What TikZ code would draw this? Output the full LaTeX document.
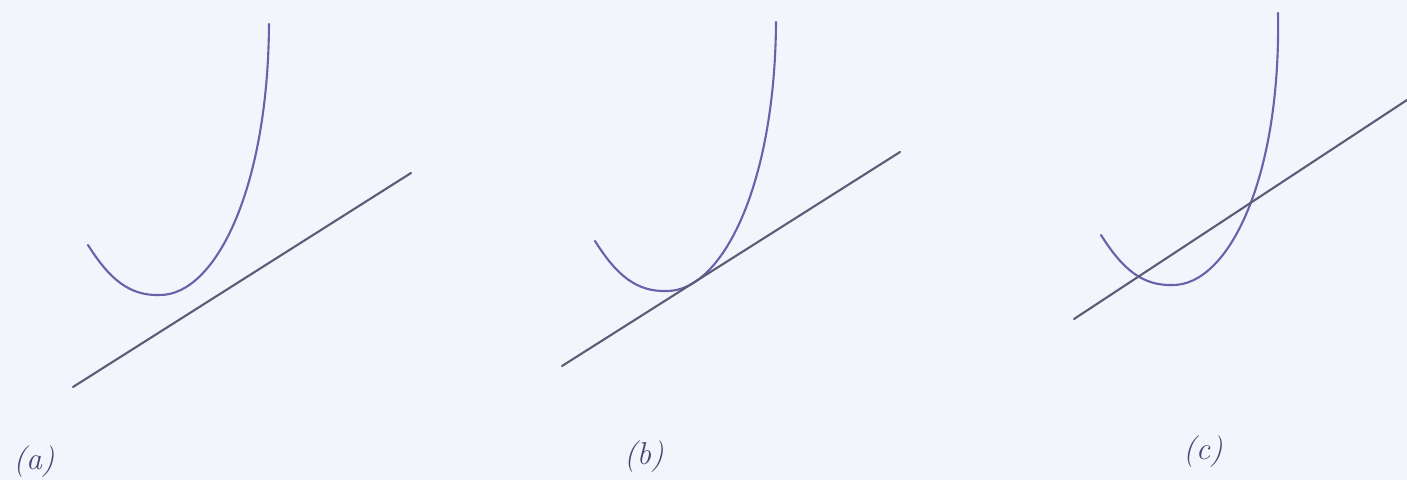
\documentclass[tikz,border=0pt]{standalone}
\definecolor{bgcol}{RGB}{243,245,252}
\definecolor{curvecol}{RGB}{105,98,170}
\definecolor{linecol}{RGB}{92,92,118}
\definecolor{labcol}{RGB}{72,70,115}
\tikzset{
  curvestyle/.style={draw=curvecol, line width=1.2pt, line cap=round},
  linestyle/.style={draw=linecol, line width=1.2pt, line cap=round},
  labelstyle/.style={text=labcol, font=\fontsize{18}{20}\selectfont\itshape, inner sep=0pt}
}
\begin{document}
\begin{tikzpicture}[x=0.02cm,y=-0.02cm]
  \fill[bgcol] (0,0) rectangle (1407,480);
  \useasboundingbox (0,0) rectangle (1407,480);
  % panel (a)
  \coordinate (aL) at (88,245);
  \coordinate (aB) at (160,295);
  \coordinate (aT) at (269,24);
  \coordinate (aS) at (73,387);
  \coordinate (aE) at (411,173);
  \draw[curvestyle] (aL) .. controls (110,280) and (130,296) .. (aB)
        .. controls (215,295) and (268,190) .. (aT);
  \draw[linestyle] (aS) -- (aE);
  \node[labelstyle] (la) at (34,462) {(a)};
  % panel (b)
  \begin{scope}[shift={(507,-4)}]
    \coordinate (bL) at (88,245);
    \coordinate (bB) at (160,295);
    \coordinate (bT) at (269,26);
    \draw[curvestyle] (bL) .. controls (110,280) and (130,296) .. (bB)
          .. controls (215,295) and (268,190) .. (bT);
  \end{scope}
  \coordinate (bS) at (562,366);
  \coordinate (bE) at (900,152);
  \draw[linestyle] (bS) -- (bE);
  \node[labelstyle] (lb) at (644,457) {(b)};
  % panel (c)
  \begin{scope}[shift={(1013,-10)}]
    \coordinate (cL) at (88,245);
    \coordinate (cB) at (160,295);
    \coordinate (cT) at (265,23);
    \draw[curvestyle] (cL) .. controls (110,280) and (130,296) .. (cB)
          .. controls (215,295) and (268,190) .. (cT);
  \end{scope}
  \coordinate (cS) at (1074,319);
  \coordinate (cE) at (1407,100);
  \draw[linestyle] (cS) -- (cE);
  \node[labelstyle] (lc) at (1203,452) {(c)};
\end{tikzpicture}
\end{document}
